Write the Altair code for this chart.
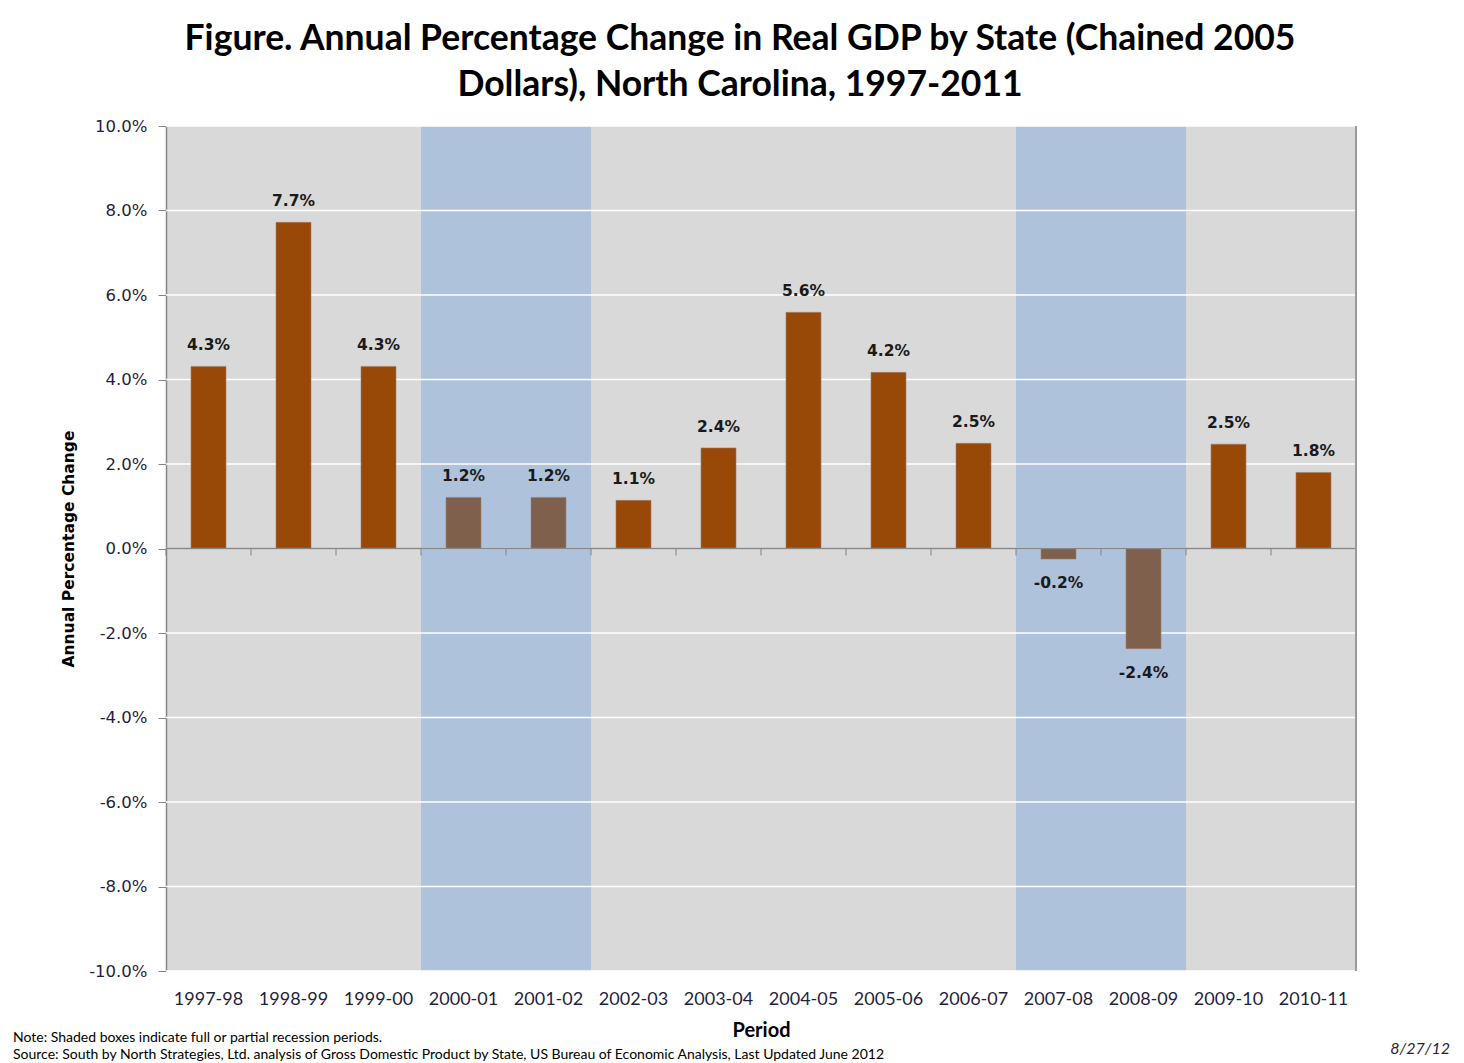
import altair as alt
import pandas as pd

periods = ["1997-98", "1998-99", "1999-00", "2000-01", "2001-02", "2002-03", "2003-04",
           "2004-05", "2005-06", "2006-07", "2007-08", "2008-09", "2009-10", "2010-11"]
growth = [4.31, 7.72, 4.31, 1.21, 1.21, 1.14, 2.38, 5.59, 4.17, 2.49, -0.25, -2.37, 2.47, 1.80]
labels = ["4.3%", "7.7%", "4.3%", "1.2%", "1.2%", "1.1%", "2.4%", "5.6%", "4.2%", "2.5%",
          "-0.2%", "-2.4%", "2.5%", "1.8%"]
recession = [False, False, False, True, True, False, False, False, False, False,
             True, True, False, False]
y_ticks = [-10, -8, -6, -4, -2, 0, 2, 4, 6, 8, 10]

note_lines = ["Note: Shaded boxes indicate full or partial recession periods.",
              "Source:  South by North Strategies, Ltd. analysis of Gross Domestic Product by State, US Bureau of Economic Analysis, Last Updated June 2012"]
date_text = ["8/27/12"]

df = pd.DataFrame({"period": periods, "growth": growth, "label": labels, "recession": recession,
                   "shade_top": [10] * len(periods), "shade_bottom": [-10] * len(periods),
                   "zero": [0] * len(periods)})
df["kind"] = ["recession" if r else "normal" for r in recession]

W, H = 1190, 845
FONT = "Lato"
TFONT = "DejaVu Sans"
GRAY = "#868686"

xscale = alt.Scale(domain=periods, paddingInner=0, paddingOuter=0)
yscale = alt.Scale(domain=[-10, 10], nice=False, zero=False)

x_main = alt.X("period:N", scale=xscale, sort=periods,
               axis=alt.Axis(orient="bottom", domain=False, ticks=False, labelPadding=19,
                             labelFontSize=18, labelFont=FONT, labelColor="#1F1F3F", labelAngle=0,
                             title="Period", titleFontSize=20, titleFontWeight="bold",
                             titleFont=FONT, titleColor="black", titlePadding=12, grid=False))

shade = alt.Chart(df).transform_filter("datum.recession").mark_rect(color="#AFC2DB").encode(
    x=x_main,
    y=alt.Y("shade_top:Q", scale=yscale,
            axis=alt.Axis(values=y_ticks,
                          labelExpr="replace(format(datum.value, '.1f'), '\u2212', '-') + '%'",
                          grid=False, domainColor=GRAY, domainWidth=1.5, tickColor=GRAY,
                          tickSize=8, labelPadding=11, labelFontSize=16.5, labelColor="#1F1F3F",
                          labelFont=TFONT, title="Annual Percentage Change", titleFontSize=15.5,
                          titleFontWeight="bold", titleFont=TFONT, titleColor="black",
                          titlePadding=12)),
    y2="shade_bottom:Q",
)

grid = alt.Chart(pd.DataFrame({"t": y_ticks})).mark_rule(color="white", strokeWidth=1.5).encode(
    y=alt.Y("t:Q", scale=yscale)
)

bars = alt.Chart(df).mark_bar(width=35, stroke="#A08070", strokeWidth=0.6).encode(
    x=alt.X("period:N", scale=xscale, sort=periods),
    y=alt.Y("growth:Q", scale=yscale),
    y2="zero:Q",
    color=alt.Color("kind:N", scale=alt.Scale(domain=["normal", "recession"],
                                              range=["#984807", "#7F604C"]), legend=None),
)

zero_line = alt.Chart(pd.DataFrame({"t": [0]})).mark_rule(color=GRAY, strokeWidth=1.5).encode(
    y=alt.Y("t:Q", scale=yscale)
)

cat_ticks = alt.Chart(df).mark_tick(orient="vertical", size=7, thickness=1.5, yOffset=3.5,
                                    color=GRAY).encode(
    x=alt.X("period:N", scale=xscale, sort=periods, bandPosition=0),
    y=alt.Y("zero:Q", scale=yscale),
)

end_tick = alt.Chart(df).transform_filter(alt.datum.period == periods[-1]).mark_tick(
    orient="vertical", size=7, thickness=1.5, yOffset=3.5, color=GRAY).encode(
    x=alt.X("period:N", scale=xscale, sort=periods, bandPosition=1),
    y=alt.Y("zero:Q", scale=yscale),
)

edge = alt.Chart(df).mark_rule(color="#9A9A9A", strokeWidth=2).encode(
    x=alt.value(W), y=alt.value(0), y2=alt.value(H)
)

pos_text = alt.Chart(df).transform_filter("datum.growth >= 0").mark_text(
    dy=-21, fontSize=15.5, fontWeight="bold", font=TFONT, color="#1A1A1A"
).encode(
    x=alt.X("period:N", scale=xscale, sort=periods),
    y=alt.Y("growth:Q", scale=yscale),
    text="label:N",
)

neg_text = alt.Chart(df).transform_filter("datum.growth < 0").mark_text(
    dy=24, fontSize=15.5, fontWeight="bold", font=TFONT, color="#1A1A1A"
).encode(
    x=alt.X("period:N", scale=xscale, sort=periods),
    y=alt.Y("growth:Q", scale=yscale),
    text="label:N",
)

note1 = alt.Chart(pd.DataFrame({"t": [note_lines[0]]})).mark_text(
    align="left", fontSize=14, font=FONT, color="black"
).encode(x=alt.value(-153), y=alt.value(912), text="t:N")

note2 = alt.Chart(pd.DataFrame({"t": [note_lines[1]]})).mark_text(
    align="left", fontSize=14, font=FONT, color="black"
).encode(x=alt.value(-153), y=alt.value(929), text="t:N")

date = alt.Chart(pd.DataFrame({"t": date_text})).mark_text(
    align="right", fontSize=16, font=FONT, fontStyle="italic", color="#1F1F3F"
).encode(x=alt.value(1284), y=alt.value(923), text="t:N")

chart = alt.layer(shade, grid, bars, zero_line, cat_ticks, end_tick, edge, pos_text, neg_text,
                  note1, note2, date).properties(
    width=W,
    height=H,
    autosize=alt.AutoSizeParams(type="none"),
    padding={"left": 158, "top": 118, "right": 100, "bottom": 90},
    title=alt.TitleParams(
        text=["Figure. Annual Percentage Change in Real GDP by State (Chained 2005",
              "Dollars), North Carolina, 1997-2011"],
        fontSize=35.5, fontWeight="bold", font=FONT, color="black", anchor="middle",
        dx=-21, offset=15, lineHeight=46,
    ),
).configure(font=FONT).configure_view(fill="#D9D9D9", strokeWidth=0)

chart.save("out.html", embed_options={"renderer": "svg", "actions": False})
